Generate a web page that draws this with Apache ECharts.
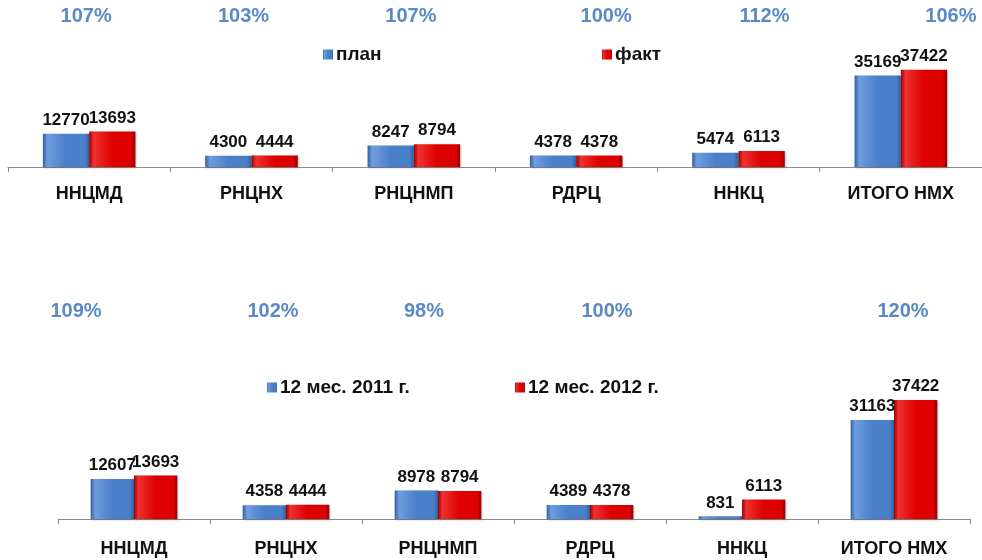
<!DOCTYPE html>
<html lang="ru">
<head>
    <meta charset="UTF-8">
    <title>НМХ план / факт</title>
    <script src="https://cdn.jsdelivr.net/npm/echarts@6/dist/echarts.min.js"></script>
    <style>
        html, body { margin: 0; padding: 0; background: #fff; }
    </style>
</head>
<body>
<div id="chart" style="width:982px;height:560px;"></div>
<script>
    // категории (общие для обоих графиков)
    var categories = ['ННЦМД', 'РНЦНХ', 'РНЦНМП', 'РДРЦ', 'ННКЦ', 'ИТОГО НМХ'];

    // верхний график: план / факт
    var planValues = [12770, 4300, 8247, 4378, 5474, 35169];
    var factValues = [13693, 4444, 8794, 4378, 6113, 37422];
    var topPercents = ['107%', '103%', '107%', '100%', '112%', '106%'];

    // нижний график: 2011 / 2012
    var values2011 = [12607, 4358, 8978, 4389, 831, 31163];
    var values2012 = [13693, 4444, 8794, 4378, 6113, 37422];
    var bottomPercents = ['109%', '102%', '98%', '100%', '', '120%'];

    // сдвиги процентов относительно центра категории (как в исходном слайде)
    var topPctShift = [-3, -8, -3, 30, 26, 50];
    var bottomPctShift = [-58, -13, -14, 17, 0, 9];

    var font = '"Liberation Sans", Arial, sans-serif';

    function bevel(dark, base, light) {
        return new echarts.graphic.LinearGradient(0, 0, 1, 0, [
            {offset: 0, color: dark},
            {offset: 0.1, color: light},
            {offset: 0.5, color: base},
            {offset: 0.9, color: base},
            {offset: 1, color: dark}
        ]);
    }
    var blueFill = bevel('#2f5f9e', '#4a7fc9', '#6f9de0');
    var redFill = bevel('#9a0000', '#dd0000', '#f03030');

    var valueLabel = {
        show: true,
        position: 'top',
        distance: 5,
        color: '#111',
        fontFamily: font,
        fontWeight: 'bold',
        fontSize: 17
    };

    function barSeries(name, data, color, axisIdx) {
        return {
            name: name,
            type: 'bar',
            xAxisIndex: axisIdx,
            yAxisIndex: axisIdx,
            data: data,
            barGap: '0%',
            barCategoryGap: '43%',
            itemStyle: {
                color: color,
                shadowColor: 'rgba(0,0,0,0.25)',
                shadowBlur: 2,
                shadowOffsetX: 1,
                shadowOffsetY: 1
            },
            label: valueLabel,
            silent: true
        };
    }

    function legend(name, left, top) {
        return {
            data: [name],
            left: left,
            top: top,
            icon: 'rect',
            itemWidth: 10,
            itemHeight: 10,
            itemGap: 0,
            selectedMode: false,
            textStyle: {
                color: '#111',
                fontFamily: font,
                fontWeight: 'bold',
                fontSize: 19,
                padding: [0, 0, 0, -2]
            }
        };
    }

    function xAxis(idx, margin) {
        return {
            type: 'category',
            gridIndex: idx,
            data: categories,
            axisLine: {lineStyle: {color: '#8c8c8c', width: 1}},
            axisTick: {show: true, length: 5, lineStyle: {color: '#8c8c8c'}},
            axisLabel: {
                color: '#111',
                fontFamily: font,
                fontWeight: 'bold',
                fontSize: 18,
                margin: margin
            }
        };
    }

    function yAxis(idx) {
        return {
            type: 'value',
            gridIndex: idx,
            min: 0,
            max: 50000,
            show: false,
            splitLine: {show: false}
        };
    }

    var chart = echarts.init(document.getElementById('chart'));

    var option = {
        backgroundColor: '#fff',
        animation: false,
        legend: [
            legend('план', 318, 40),
            legend('факт', 597, 40),
            legend('12 мес. 2011 г.', 262, 373),
            legend('12 мес. 2012 г.', 510, 373)
        ],
        grid: [
            {left: 8, width: 975, top: 37, height: 130},
            {left: 58, width: 912, top: 360, height: 159}
        ],
        xAxis: [xAxis(0, 18), xAxis(1, 21)],
        yAxis: [yAxis(0), yAxis(1)],
        series: [
            barSeries('план', planValues, blueFill, 0),
            barSeries('факт', factValues, redFill, 0),
            barSeries('12 мес. 2011 г.', values2011, blueFill, 1),
            barSeries('12 мес. 2012 г.', values2012, redFill, 1)
        ]
    };
    chart.setOption(option);

    // проценты над категориями
    var texts = [];
    function addPercents(list, shift, axisIdx, y) {
        list.forEach(function (txt, i) {
            if (!txt) return;
            var x = chart.convertToPixel({xAxisIndex: axisIdx}, categories[i]);
            texts.push({
                type: 'text',
                x: x + shift[i],
                y: y,
                style: {
                    text: txt,
                    fill: '#5a8ac6',
                    font: 'bold 20px ' + font,
                    align: 'center',
                    verticalAlign: 'middle'
                }
            });
        });
    }
    addPercents(topPercents, topPctShift, 0, 16);
    addPercents(bottomPercents, bottomPctShift, 1, 311);
    chart.setOption({graphic: texts});
</script>
</body>
</html>
